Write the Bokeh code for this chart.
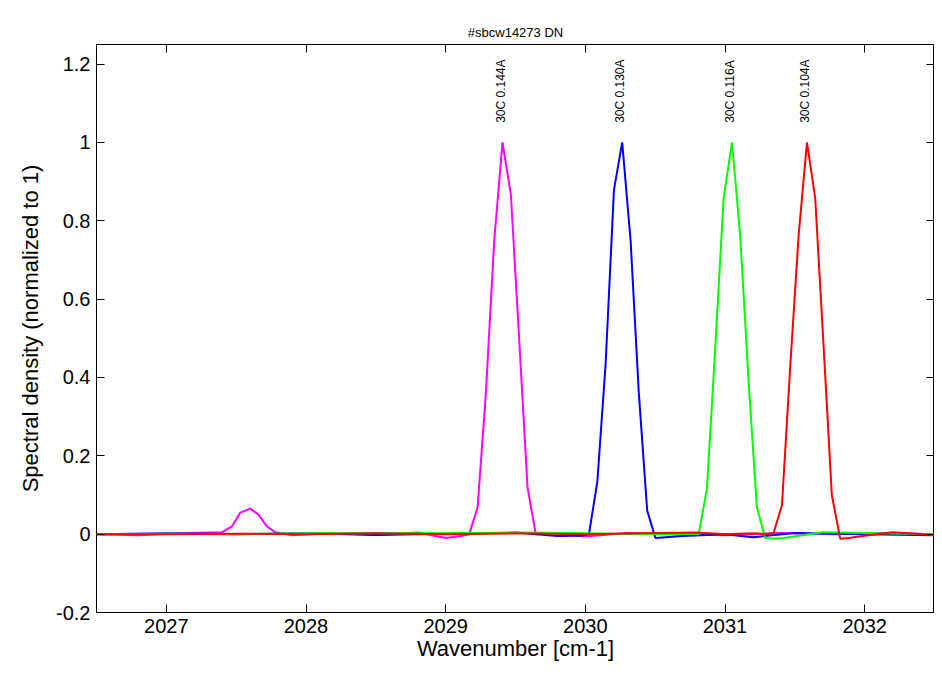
import math
from bokeh.plotting import figure
from bokeh.models import ColumnDataSource, LinearAxis, Range1d, FixedTicker
from bokeh.core.properties import value
from bokeh.embed import file_html
from bokeh.resources import INLINE

FONT = "Liberation Sans"

# magenta (30C 0.144A)
mag_x = [2026.5, 2026.8, 2027.1, 2027.4, 2027.47, 2027.53, 2027.6, 2027.66, 2027.72, 2027.78, 2027.9,
         2028.2, 2028.5, 2028.8, 2029.0, 2029.11, 2029.169, 2029.229, 2029.288, 2029.348, 2029.407,
         2029.467, 2029.526, 2029.586, 2029.645, 2029.8, 2030.0, 2030.3, 2030.6, 2031.0, 2031.4,
         2031.8, 2032.2, 2032.5]
mag_y = [0.0, -0.003, 0.002, 0.005, 0.02, 0.055, 0.065, 0.05, 0.02, 0.005, -0.003,
         0.003, -0.002, 0.004, -0.01, -0.005, 0.0, 0.069, 0.36, 0.75, 1.0,
         0.866, 0.50, 0.12, 0.0, 0.003, -0.006, 0.003, 0.0, -0.003, 0.003,
         0.0, 0.003, 0.0]
# blue (30C 0.130A)
blu_x = [2026.5, 2027.0, 2027.5, 2028.0, 2028.5, 2029.0, 2029.5, 2029.8, 2029.967, 2030.026,
         2030.086, 2030.145, 2030.205, 2030.264, 2030.324, 2030.383, 2030.443, 2030.502, 2030.7,
         2031.0, 2031.2, 2031.5, 2032.0, 2032.5]
blu_y = [0.0, 0.002, 0.0, 0.002, -0.002, 0.001, 0.004, -0.005, -0.004, 0.0,
         0.134, 0.433, 0.879, 1.0, 0.75, 0.36, 0.06, -0.01, -0.005,
         0.0, -0.008, 0.003, 0.0, -0.003]
# green (30C 0.116A)
grn_x = [2026.5, 2027.0, 2027.5, 2028.0, 2028.5, 2029.0, 2029.5, 2030.0, 2030.4, 2030.753,
         2030.812, 2030.871, 2030.931, 2030.990, 2031.050, 2031.109, 2031.169, 2031.228, 2031.288,
         2031.35, 2031.42, 2031.7, 2032.1, 2032.5]
grn_y = [0.0, 0.001, 0.0, 0.002, 0.003, 0.002, 0.004, 0.002, 0.0, 0.001,
         0.0, 0.117, 0.48, 0.857, 1.0, 0.762, 0.39, 0.069, -0.01,
         -0.012, -0.01, 0.005, 0.002, 0.0]
# red (30C 0.104A)
red_x = [2026.5, 2027.0, 2027.5, 2028.0, 2028.5, 2029.0, 2029.5, 2030.0, 2030.5, 2030.8,
         2031.0, 2031.2, 2031.288, 2031.348, 2031.408, 2031.468, 2031.527, 2031.587, 2031.646,
         2031.706, 2031.765, 2031.825, 2031.885, 2032.0, 2032.2, 2032.5]
red_y = [0.0, 0.0, 0.001, 0.0, 0.002, 0.0, 0.002, 0.0, 0.003, 0.004,
         0.0, 0.002, 0.0, 0.003, 0.074, 0.433, 0.762, 1.0, 0.857,
         0.48, 0.10, -0.012, -0.01, -0.004, 0.005, -0.002]

series = [(mag_x, mag_y, "#ff00ff"), (blu_x, blu_y, "#0000ff"),
          (grn_x, grn_y, "#00ff00"), (red_x, red_y, "#ff0000")]

label_x = [2029.407, 2030.264, 2031.050, 2031.587]
label_text = ["30C 0.144A", "30C 0.130A", "30C 0.116A", "30C 0.104A"]
label_y = [1.05, 1.05, 1.05, 1.05]

x_ticks = [2027, 2028, 2029, 2030, 2031, 2032]
y_ticks = [-0.2, 0, 0.2, 0.4, 0.6, 0.8, 1.0, 1.2]
y_tick_labels = {-0.2: "-0.2", 0: "0", 0.2: "0.2", 0.4: "0.4", 0.6: "0.6",
                 0.8: "0.8", 1.0: "1", 1.2: "1.2"}

p = figure(width=934, height=663, output_backend="svg", toolbar_location=None,
           x_range=Range1d(2026.5, 2032.5), y_range=Range1d(-0.2, 1.25),
           x_axis_label="Wavenumber [cm-1]", y_axis_label="Spectral density (normalized to 1)",
           min_border_left=96, min_border_right=0, min_border_top=44, min_border_bottom=47)
p.title.text = "#sbcw14273 DN"
p.title.align = "center"
p.title.text_font = FONT
p.title.text_font_size = "13px"
p.title.text_font_style = "normal"
p.title.text_color = "black"
p.grid.visible = False
p.outline_line_color = "black"
p.outline_line_width = 1

bottom = p.below[0]
left = p.left[0]
right = LinearAxis(ticker=FixedTicker(ticks=y_ticks))
top = LinearAxis(ticker=FixedTicker(ticks=x_ticks))
p.add_layout(right, "right")
p.add_layout(top, "above")
for ax in [bottom, left, right, top]:
    ax.major_tick_in = 8
    ax.major_tick_out = 0
    ax.minor_tick_in = 0
    ax.minor_tick_out = 0
    ax.axis_line_color = None
    ax.major_label_text_font = FONT
    ax.major_label_text_font_size = "20px"
    ax.major_label_text_color = "black"
    ax.axis_label_text_font = FONT
    ax.axis_label_text_font_size = "22px"
    ax.axis_label_text_font_style = "normal"
    ax.axis_label_text_color = "black"
    ax.major_label_standoff = 6
bottom.ticker = FixedTicker(ticks=x_ticks)
left.ticker = FixedTicker(ticks=y_ticks)
left.major_label_overrides = y_tick_labels
left.axis_label_standoff = 10
bottom.axis_label_standoff = 0
for ax in [right, top]:
    ax.major_label_text_color = None
    ax.major_label_text_font_size = "1px"
    ax.major_label_standoff = 0

for xs, ys, c in series:
    p.line(xs, ys, line_color=c, line_width=2)

src = ColumnDataSource(dict(x=label_x, y=label_y, t=label_text))
p.text("x", "y", text="t", source=src, angle=math.pi / 2, text_font=value(FONT),
       text_font_size="12px", text_align="left", text_baseline="middle", x_offset=-2)

open("out.html", "w").write(file_html(p, INLINE))
